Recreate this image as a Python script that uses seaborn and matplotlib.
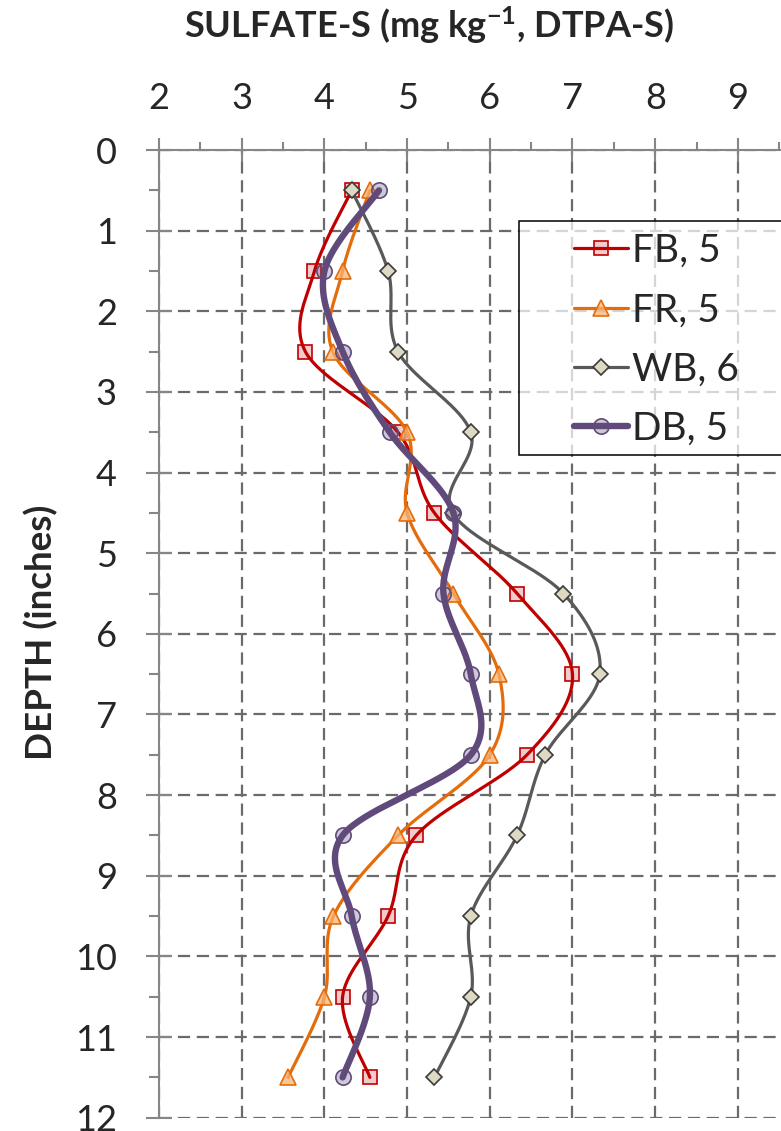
import numpy as np
import pandas as pd
import matplotlib
matplotlib.use("Agg")
import matplotlib.pyplot as plt
from matplotlib.lines import Line2D
from matplotlib.patches import Rectangle
import seaborn as sns

# ---------------- data ----------------
depth = [0.5, 1.5, 2.5, 3.5, 4.5, 5.5, 6.5, 7.5, 8.5, 9.5, 10.5, 11.5]
fb = [4.33, 3.88, 3.77, 4.89, 5.33, 6.33, 7.00, 6.45, 5.11, 4.77, 4.22, 4.55]
fr = [4.55, 4.22, 4.10, 5.00, 5.00, 5.56, 6.11, 6.00, 4.89, 4.11, 4.00, 3.56]
wb = [4.33, 4.77, 4.89, 5.77, 5.55, 6.89, 7.33, 6.67, 6.33, 5.77, 5.77, 5.33]
db = [4.66, 4.00, 4.22, 4.79, 5.56, 5.44, 5.77, 5.77, 4.22, 4.33, 4.55, 4.22]
labels = ["FB, 5", "FR, 5", "WB, 6", "DB, 5"]
x_ticks = [2, 3, 4, 5, 6, 7, 8, 9]
y_ticks = list(range(0, 13))

# ---------------- style ----------------
sns.set_style("white")
plt.rcParams['font.family'] = ['Lato', 'DejaVu Sans']
plt.rcParams['mathtext.fontset'] = 'custom'
plt.rcParams['mathtext.rm'] = 'Lato'
plt.rcParams['mathtext.bf'] = 'Lato:bold'
plt.rcParams['mathtext.it'] = 'Lato:italic'

styles = [
    dict(color="#C00000", lw=2.3, marker="s", ms=10.5, mfc=(0.75, 0.0, 0.0, 0.2), mec="#C00000", mew=1.2),
    dict(color="#E46C0A", lw=2.3, marker="^", ms=11, mfc=(0.98, 0.70, 0.45, 0.75), mec="#E46C0A", mew=1.2),
    dict(color="#595959", lw=2.3, marker="D", ms=7.8, mfc="#DDD9C3", mec="#3A3A3A", mew=1.2),
    dict(color="#604A7B", lw=4.6, marker="o", ms=11, mfc=(0.376, 0.29, 0.48, 0.3), mec="#604A7B", mew=1.2),
]


def excel_smooth(xs, ys, n=40):
    px = np.asarray(xs, float)
    py = np.asarray(ys, float)
    P = np.column_stack([px, py])
    m = len(P)
    out = [P[0]]
    for i in range(m - 1):
        p0 = P[i - 1] if i > 0 else P[i]
        p1 = P[i]
        p2 = P[i + 1]
        p3 = P[i + 2] if i + 2 < m else P[i + 1]
        c1 = p1 + (p2 - p0) / 6.0
        c2 = p2 - (p3 - p1) / 6.0
        t = np.linspace(0, 1, n)[1:, None]
        seg = ((1 - t) ** 3) * p1 + 3 * ((1 - t) ** 2) * t * c1 + 3 * (1 - t) * t ** 2 * c2 + t ** 3 * p2
        out.extend(seg)
    out = np.array(out)
    return out[:, 0], out[:, 1]


W, H = 781, 1131
fig = plt.figure(figsize=(W / 100, H / 100), dpi=100)
ax_left = 159 / W
ax_top = 1 - 150 / H
ax_bottom = 1 - 1117.7 / H
ax = fig.add_axes([ax_left, ax_bottom, 1 - ax_left, ax_top - ax_bottom])

series = [fb, fr, wb, db]
for k, (vals, st) in enumerate(zip(series, styles)):
    sx, sy = excel_smooth(vals, depth)
    curve = pd.DataFrame({"x": sx, "y": sy})
    sns.lineplot(data=curve, x="x", y="y", sort=False, estimator=None, ax=ax,
                 color=st["color"], lw=st["lw"], zorder=3 + k * 0.1,
                 solid_capstyle="round")
    pts = pd.DataFrame({"x": vals, "y": depth})
    ax.plot(pts["x"], pts["y"], linestyle="none", marker=st["marker"], ms=st["ms"],
            mfc=st["mfc"], mec=st["mec"], mew=st["mew"], zorder=3.05 + k * 0.1)

ax.set_xlim(2, 2 + (W - 159) / 82.7)
ax.set_ylim(12, 0)
ax.set_xticks(x_ticks)
ax.set_xticks(np.arange(2.5, 10, 1.0), minor=True)
ax.set_yticks(y_ticks)
ax.set_yticks(np.arange(0.5, 12, 1.0), minor=True)
ax.xaxis.tick_top()
ax.set_xticklabels([str(v) for v in x_ticks])
ax.set_yticklabels([str(v) for v in y_ticks])
ax.set_xlabel("")
ax.set_ylabel("")

tick_col = "#868686"
ax.tick_params(axis="x", which="major", direction="inout", length=17, width=1.5,
               color=tick_col, labelsize=26, pad=17, top=True, bottom=False,
               labeltop=True, labelbottom=False)
ax.tick_params(axis="x", which="minor", direction="out", length=6, width=1.5,
               color=tick_col, top=True, bottom=False)
ax.tick_params(axis="y", which="major", direction="inout", length=18.7, width=1.5,
               color=tick_col, labelsize=26, pad=21, left=True)
ax.tick_params(axis="y", which="minor", direction="out", length=7.2, width=1.5,
               color=tick_col, left=True)

for side in ["right", "bottom"]:
    ax.spines[side].set_visible(False)
for side in ["left", "top"]:
    ax.spines[side].set_color(tick_col)
    ax.spines[side].set_linewidth(1.5)
    ax.spines[side].set_zorder(2.5)

ax.grid(True, which="major", color="#6A6A6A", linewidth=1.6, linestyle=(0, (5.5, 3)))
ax.set_axisbelow(True)

# legend frame
lx0 = (519 - 159) / (W - 159)
ly_top = 1 - (220.7 - 150) / (1117.7 - 150)
ly_bot = 1 - (455 - 150) / (1117.7 - 150)
ax.add_patch(Rectangle((lx0, ly_bot), 0.6, ly_top - ly_bot, transform=ax.transAxes,
                       facecolor=(1, 1, 1, 0.72), edgecolor="black", linewidth=1.1,
                       zorder=6, clip_on=False))
handles = [Line2D([], [], color=st["color"], lw=st["lw"], marker=st["marker"], ms=st["ms"],
                  mfc=st["mfc"], mec=st["mec"], mew=st["mew"]) for st in styles]
hx = (574 - 159) / (W - 159)
hy = 1 - (233 - 150) / (1117.7 - 150)
leg = ax.legend(handles, labels, loc="upper left", bbox_to_anchor=(hx, hy),
                frameon=False, fontsize=28, borderpad=0, borderaxespad=0,
                handlelength=1.38, handletextpad=0.12, labelspacing=0.6,
                numpoints=1)
leg.set_zorder(7)

fig.text(429 / W, 1 - 38 / H, r"SULFATE-S (mg kg$^{\mathbf{-1}}$, DTPA-S)",
         ha="center", va="baseline", fontsize=26, fontweight="bold")
fig.text(41 / W, 1 - 632 / H, "DEPTH (inches)", rotation=90, ha="center", va="center",
         fontsize=26.5, fontweight="bold")

fig.savefig("out.png", dpi=100)
